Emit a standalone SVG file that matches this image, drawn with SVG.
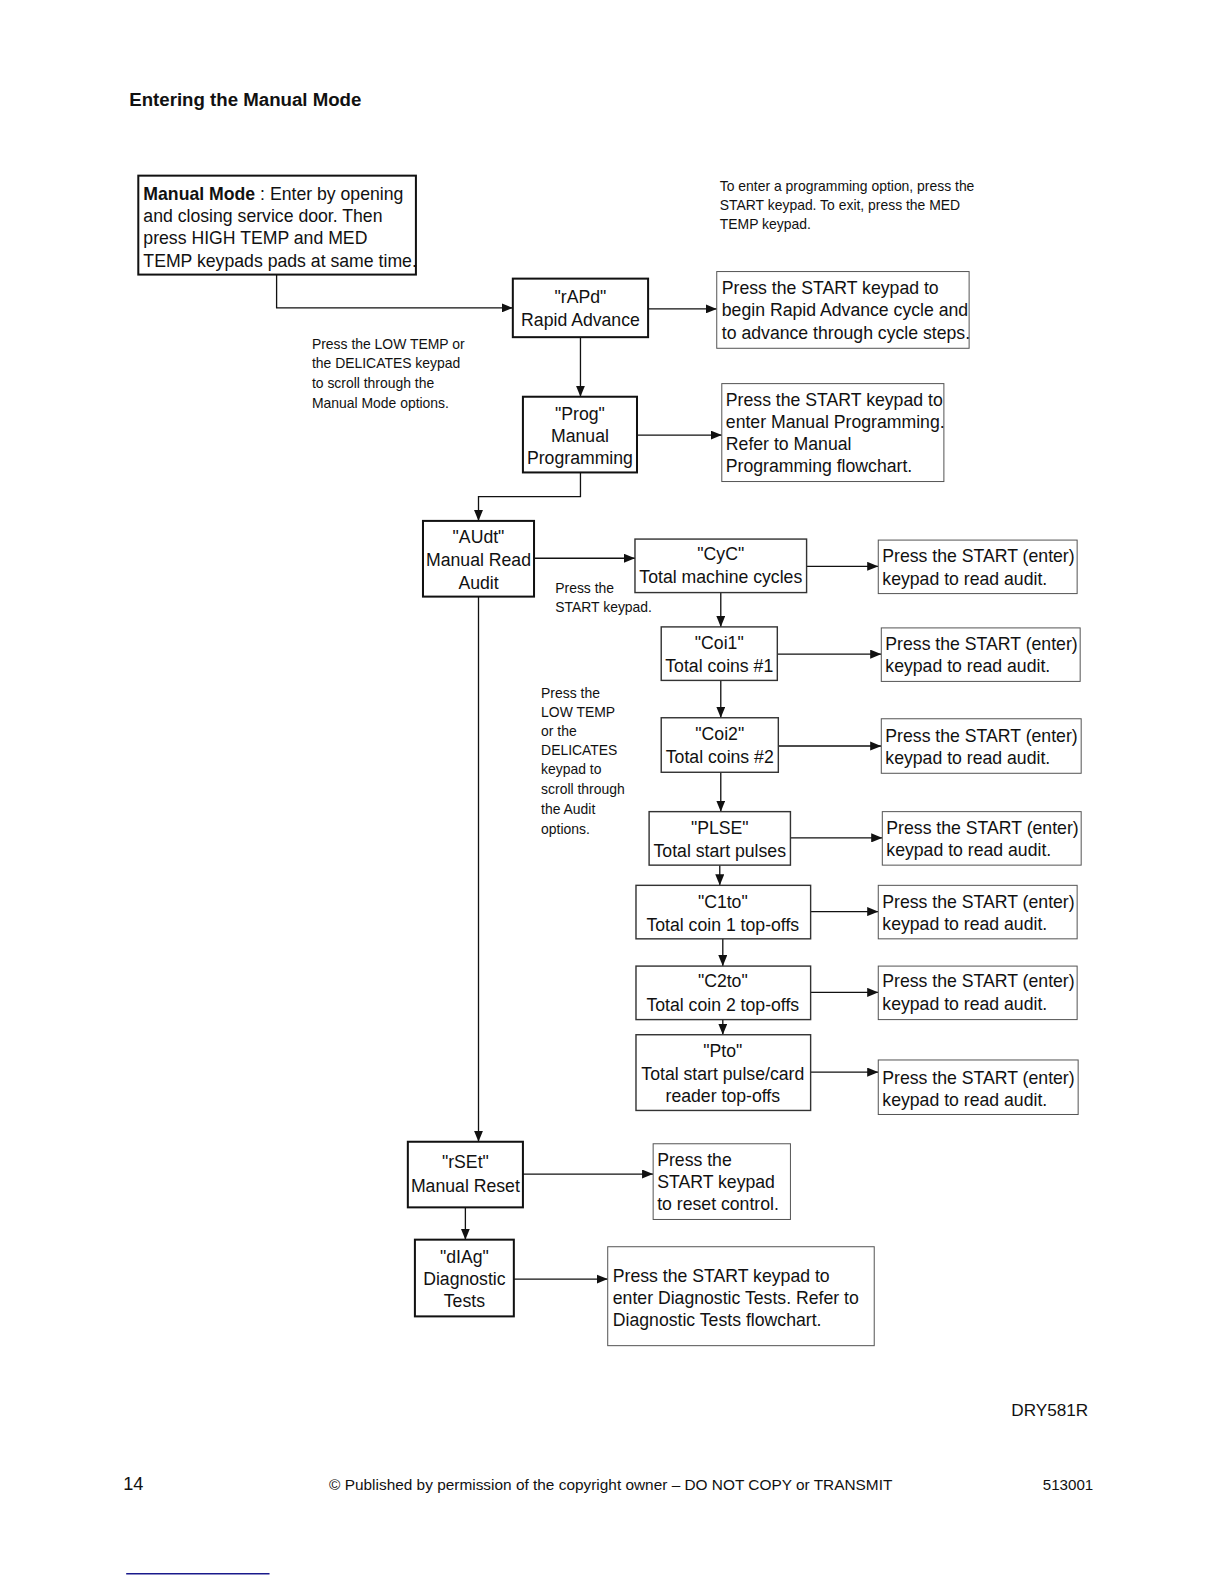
<svg xmlns="http://www.w3.org/2000/svg" width="1224" height="1584" viewBox="0 0 1224 1584">
<defs>
<marker id="arr" markerWidth="11" markerHeight="9" refX="11" refY="4.5" orient="auto" markerUnits="userSpaceOnUse">
<path d="M0,0 L11,4.5 L0,9 z" fill="#111"/>
</marker>
<style>
text{font-family:"Liberation Sans",Arial,Helvetica,sans-serif;fill:#111}
.t{font-size:17.5px}
.s{font-size:13.8px}
.c{text-anchor:middle}
.node rect{fill:#fff;stroke:#111;stroke-width:2}
.anode rect{fill:#fff;stroke:#333;stroke-width:1.4}
.desc rect{fill:#fff;stroke:#555;stroke-width:1}
.conn path{fill:none;stroke:#111;stroke-width:1.3;marker-end:url(#arr)}
</style>
</defs>
<rect width="1224" height="1584" fill="#fff"/>
<g transform="scale(1.0095)">
<text x="128" y="105" style="font-size:18.5px;font-weight:bold">Entering the Manual Mode</text>

<g id="conns" class="conn">
<path d="M274,272 V305 H508"/>
<path d="M642,306 H710"/>
<path d="M575,334 V393"/>
<path d="M631,431 H715"/>
<path d="M575,468 V492 H474 V516"/>
<path d="M529,553 H629"/>
<path d="M799,561 H870"/>
<path d="M714,587 V621"/>
<path d="M770,648 H873"/>
<path d="M714,674 V711"/>
<path d="M771,739 H873"/>
<path d="M714,765 V804"/>
<path d="M783,830 H874"/>
<path d="M713,857 V877"/>
<path d="M803,903 H870"/>
<path d="M716,930 V957"/>
<path d="M803,983 H870"/>
<path d="M716,1010 V1025"/>
<path d="M803,1062 H870"/>
<path d="M474,591 V1131"/>
<path d="M518,1163 H647"/>
<path d="M461,1196 V1228"/>
<path d="M509,1267 H602"/>
</g>

<g id="manualMode" class="node">
<rect x="137" y="174" width="275" height="98"/>
<text class="t" x="142" y="198"><tspan font-weight="bold">Manual Mode</tspan> : Enter by opening</text>
<text class="t" x="142" y="220">and closing service door. Then</text>
<text class="t" x="142" y="242">press HIGH TEMP and MED</text>
<text class="t" x="142" y="264">TEMP keypads pads at same time.</text>
</g>

<g id="noteTop">
<text class="s" x="713" y="189">To enter a programming option, press the</text>
<text class="s" x="713" y="208">START keypad. To exit, press the MED</text>
<text class="s" x="713" y="227">TEMP keypad.</text>
</g>

<g id="noteLeft">
<text class="s" x="309" y="346">Press the LOW TEMP or</text>
<text class="s" x="309" y="365">the DELICATES keypad</text>
<text class="s" x="309" y="384">to scroll through the</text>
<text class="s" x="309" y="404">Manual Mode options.</text>
</g>

<g id="rAPd" class="node">
<rect x="508" y="276" width="134" height="58"/>
<text class="t c" x="575" y="300">"rAPd"</text>
<text class="t c" x="575" y="323">Rapid Advance</text>
</g>
<g id="rAPdDesc" class="desc">
<rect x="710" y="269" width="250" height="76"/>
<text class="t" x="715" y="291">Press the START keypad to</text>
<text class="t" x="715" y="313">begin Rapid Advance cycle and</text>
<text class="t" x="715" y="336">to advance through cycle steps.</text>
</g>

<g id="Prog" class="node">
<rect x="518" y="393" width="113" height="75"/>
<text class="t c" x="574.5" y="416">"Prog"</text>
<text class="t c" x="574.5" y="438">Manual</text>
<text class="t c" x="574.5" y="460">Programming</text>
</g>
<g id="ProgDesc" class="desc">
<rect x="715" y="380" width="220" height="97"/>
<text class="t" x="719" y="402">Press the START keypad to</text>
<text class="t" x="719" y="424">enter Manual Programming.</text>
<text class="t" x="719" y="446">Refer to Manual</text>
<text class="t" x="719" y="468">Programming flowchart.</text>
</g>

<g id="AUdt" class="node">
<rect x="419" y="516" width="110" height="75"/>
<text class="t c" x="474" y="538">"AUdt"</text>
<text class="t c" x="474" y="561">Manual Read</text>
<text class="t c" x="474" y="583">Audit</text>
</g>
<g id="noteStart">
<text class="s" x="550" y="587">Press the</text>
<text class="s" x="550" y="606">START keypad.</text>
</g>

<g id="CyC" class="anode">
<rect x="629" y="534" width="170" height="53"/>
<text class="t c" x="714" y="555">"CyC"</text>
<text class="t c" x="714" y="578">Total machine cycles</text>
</g>
<g id="CyCDesc" class="desc">
<rect x="870" y="535" width="197" height="53"/>
<text class="t" x="874" y="557">Press the START (enter)</text>
<text class="t" x="874" y="579">keypad to read audit.</text>
</g>

<g id="Coi1" class="anode">
<rect x="655" y="621" width="115" height="53"/>
<text class="t c" x="712.5" y="643">"Coi1"</text>
<text class="t c" x="712.5" y="666">Total coins #1</text>
</g>
<g id="Coi1Desc" class="desc">
<rect x="873" y="622" width="197" height="53"/>
<text class="t" x="877" y="644">Press the START (enter)</text>
<text class="t" x="877" y="666">keypad to read audit.</text>
</g>

<g id="noteAudit">
<text class="s" x="536" y="691">Press the</text>
<text class="s" x="536" y="710">LOW TEMP</text>
<text class="s" x="536" y="729">or the</text>
<text class="s" x="536" y="748">DELICATES</text>
<text class="s" x="536" y="767">keypad to</text>
<text class="s" x="536" y="787">scroll through</text>
<text class="s" x="536" y="806">the Audit</text>
<text class="s" x="536" y="826">options.</text>
</g>

<g id="Coi2" class="anode">
<rect x="655" y="711" width="116" height="54"/>
<text class="t c" x="713" y="733">"Coi2"</text>
<text class="t c" x="713" y="756">Total coins #2</text>
</g>
<g id="Coi2Desc" class="desc">
<rect x="873" y="712" width="198" height="54"/>
<text class="t" x="877" y="735">Press the START (enter)</text>
<text class="t" x="877" y="757">keypad to read audit.</text>
</g>

<g id="PLSE" class="anode">
<rect x="643" y="804" width="140" height="53"/>
<text class="t c" x="713" y="826">"PLSE"</text>
<text class="t c" x="713" y="849">Total start pulses</text>
</g>
<g id="PLSEDesc" class="desc">
<rect x="874" y="804" width="197" height="53"/>
<text class="t" x="878" y="826">Press the START (enter)</text>
<text class="t" x="878" y="848">keypad to read audit.</text>
</g>

<g id="C1to" class="anode">
<rect x="630" y="877" width="173" height="53"/>
<text class="t c" x="716" y="899">"C1to"</text>
<text class="t c" x="716" y="922">Total coin 1 top-offs</text>
</g>
<g id="C1toDesc" class="desc">
<rect x="870" y="877" width="197" height="53"/>
<text class="t" x="874" y="899">Press the START (enter)</text>
<text class="t" x="874" y="921">keypad to read audit.</text>
</g>

<g id="C2to" class="anode">
<rect x="630" y="957" width="173" height="53"/>
<text class="t c" x="716" y="978">"C2to"</text>
<text class="t c" x="716" y="1001">Total coin 2 top-offs</text>
</g>
<g id="C2toDesc" class="desc">
<rect x="870" y="957" width="197" height="53"/>
<text class="t" x="874" y="978">Press the START (enter)</text>
<text class="t" x="874" y="1000">keypad to read audit.</text>
</g>

<g id="Pto" class="anode">
<rect x="630" y="1025" width="173" height="75"/>
<text class="t c" x="716" y="1047">"Pto"</text>
<text class="t c" x="716" y="1070">Total start pulse/card</text>
<text class="t c" x="716" y="1092">reader top-offs</text>
</g>
<g id="PtoDesc" class="desc">
<rect x="870" y="1050" width="198" height="54"/>
<text class="t" x="874" y="1074">Press the START (enter)</text>
<text class="t" x="874" y="1096">keypad to read audit.</text>
</g>

<g id="rSEt" class="node">
<rect x="404" y="1131" width="114" height="65"/>
<text class="t c" x="461" y="1157">"rSEt"</text>
<text class="t c" x="461" y="1181">Manual Reset</text>
</g>
<g id="rSEtDesc" class="desc">
<rect x="647" y="1133" width="136" height="75"/>
<text class="t" x="651" y="1155">Press the</text>
<text class="t" x="651" y="1177">START keypad</text>
<text class="t" x="651" y="1199">to reset control.</text>
</g>

<g id="dIAg" class="node">
<rect x="411" y="1228" width="98" height="76"/>
<text class="t c" x="460" y="1251">"dIAg"</text>
<text class="t c" x="460" y="1273">Diagnostic</text>
<text class="t c" x="460" y="1295">Tests</text>
</g>
<g id="dIAgDesc" class="desc">
<rect x="602" y="1235" width="264" height="98"/>
<text class="t" x="607" y="1270">Press the START keypad to</text>
<text class="t" x="607" y="1292">enter Diagnostic Tests. Refer to</text>
<text class="t" x="607" y="1314">Diagnostic Tests flowchart.</text>
</g>

<g id="footer">
<text x="1078" y="1403" text-anchor="end" style="font-size:17px">DRY581R</text>
<text x="122" y="1476" style="font-size:18px">14</text>
<text x="605" y="1476" text-anchor="middle" style="font-size:15px" textLength="558" lengthAdjust="spacingAndGlyphs">© Published by permission of the copyright owner – DO NOT COPY or TRANSMIT</text>
<text x="1083" y="1476" text-anchor="end" style="font-size:15px">513001</text>
<line x1="125" y1="1559" x2="267" y2="1559" stroke="#1a1a8c" stroke-width="1.5"/>
</g>
</g>
</svg>
